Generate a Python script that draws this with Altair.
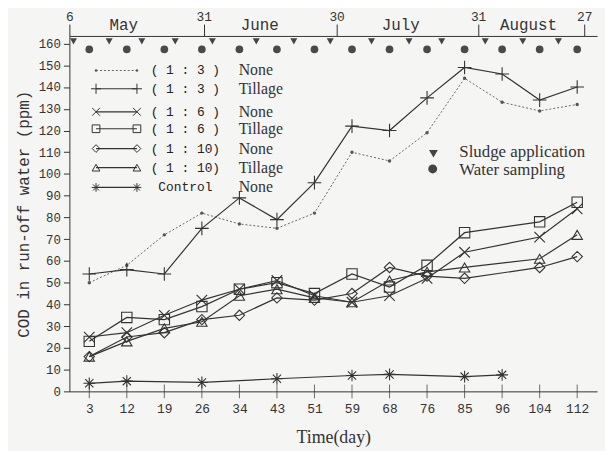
import altair as alt
import pandas as pd

# ---------------- data ----------------
days = [3, 12, 19, 26, 34, 43, 51, 59, 68, 76, 85, 96, 104, 112]
r3_none = [50, 58, 72, 82, 77, 75, 82, 110, 106, 119, 144, 133, 129, 132]
r3_till = [54, 56, 54, 75, 89, 79, 96, 122, 120, 135, 149, 146, 134, 140]
r6_none = [25, 27, 35, 42, 47, 51, 44, 41, 44, 52, 64, None, 71, 84]
r6_till = [23, 34, 33, 39, 47, 50, 45, 54, 48, 58, 73, None, 78, 87]
r10_none = [16, 25, 27, 33, 35, 43, 42, 45, 57, 53, 52, None, 57, 62]
r10_till = [16, 23, 29, 32, 44, 47, 43, 41, 51, 55, 57, None, 61, 72]
control = [3.7, 4.7, None, 4.1, None, 5.8, None, 7.3, 7.8, None, 6.8, 7.6, None, None]

series_names = ["r3n", "r3t", "r6n", "r6t", "r10n", "r10t", "ctl"]
series_vals = [r3_none, r3_till, r6_none, r6_till, r10_none, r10_till, control]
ratio_labels = ["( 1 : 3 )", "( 1 : 3 )", "( 1 : 6 )", "( 1 : 6 )", "( 1 : 10)", "( 1 : 10)", "Control"]
treat_labels = ["None", "Tillage", "None", "Tillage", "None", "Tillage", "None"]

# top (calendar) axis, positions in sampling-index units
top_tick_pos = [-0.53, 3.05, 6.59, 10.36, 13.19]
top_tick_lab = ["6", "31", "30", "31", "27"]
month_names = ["May", "June", "July", "August"]
month_pos = [0.92, 4.54, 8.30, 11.70]
# sludge application events (sampling-index units)
sludge_pos = [-0.42, 0.53, 1.40, 2.29, 3.28, 4.45, 5.45, 6.42, 7.52, 8.52, 9.39, 10.55, 11.55, 12.50]
# water sampling events = each sampling day
sampling_idx = list(range(len(days)))

# ---------------- styling ----------------
INK = "#333333"
BG = "#f5f5f3"
W, H = 533, 359
xs = alt.Scale(domain=[-0.53, 13.53], nice=False, zero=False)
ys = alt.Scale(domain=[0, 163.5], nice=False, zero=False)
MONO = "Liberation Mono"
SERIF = "Liberation Serif"

PLUS = "M-1,0L1,0M0,-1L0,1"
CROSS = "M-0.75,-0.75L0.75,0.75M-0.75,0.75L0.75,-0.75"
ASTER = "M-1,0L1,0M0,-1L0,1M-0.7,-0.7L0.7,0.7M-0.7,0.7L0.7,-0.7"
styles = {
    "r3n": dict(shape="circle", size=12, filled=True, dash=[2, 2], color="#555555", lw=0.9),
    "r3t": dict(shape=PLUS, size=190, filled=False, dash=None, color=INK, lw=1.2),
    "r6n": dict(shape=CROSS, size=200, filled=False, dash=None, color=INK, lw=1.2),
    "r6t": dict(shape="square", size=110, filled=False, dash=None, color=INK, lw=1.2),
    "r10n": dict(shape="diamond", size=110, filled=False, dash=None, color=INK, lw=1.2),
    "r10t": dict(shape="triangle-up", size=110, filled=False, dash=None, color=INK, lw=1.2),
    "ctl": dict(shape=ASTER, size=140, filled=False, dash=None, color=INK, lw=1.2),
}

rows = []
for name, vals in zip(series_names, series_vals):
    for i, v in enumerate(vals):
        if v is not None:
            rows.append({"series": name, "i": i, "v": v})
df = pd.DataFrame(rows)

label_expr = "[" + ",".join(f"'{d}'" for d in days) + "][datum.value]"
top_expr = " : ".join(
    f"datum.value < {p + 0.5} ? '{l}'" for p, l in zip(top_tick_pos[:-1], top_tick_lab[:-1])
) + f" : '{top_tick_lab[-1]}'"

y_axis = alt.Axis(
    values=list(range(0, 161, 10)), grid=False, domain=True, domainColor=INK,
    ticks=True, tickColor=INK, tickSize=6, labelFont=MONO, labelFontSize=12.5,
    labelColor=INK, labelPadding=3, title="COD in run-off water (ppm)",
    titleFont=MONO, titleFontSize=16, titleFontWeight="normal", titleColor=INK,
    titlePadding=7,
)
x_axis = alt.Axis(
    values=list(range(len(days))), labelExpr=label_expr, grid=False, domain=True,
    domainColor=INK, ticks=False, labelFont=MONO, labelFontSize=13, labelColor=INK,
    labelPadding=11, labelFlush=False, title="Time(day)", titleFont=SERIF,
    titleFontSize=18, titleFontWeight="normal", titleColor=INK, titlePadding=14,
)
top_axis = alt.Axis(
    orient="top", values=top_tick_pos, labelExpr=top_expr, grid=False, domain=True,
    domainColor=INK, ticks=True, tickColor=INK, tickSize=12, labelFont=MONO,
    labelFontSize=13, labelColor=INK, labelPadding=1, labelFlush=False, title=None,
)

layers = []

# bottom axis + y axis carrier, with tick marks crossing the x axis
tick_df = pd.DataFrame({"i": sampling_idx, "z": [0] * len(sampling_idx)})
layers.append(
    alt.Chart(tick_df).mark_tick(orient="vertical", size=14, thickness=1, color=INK).encode(
        x=alt.X("i:Q", scale=xs, axis=x_axis),
        y=alt.Y("z:Q", scale=ys, axis=y_axis),
    )
)
# top calendar axis carrier
top_df = pd.DataFrame({"p": top_tick_pos})
layers.append(
    alt.Chart(top_df).mark_point(opacity=0).encode(
        x=alt.X("p:Q", scale=xs, axis=top_axis),
        y=alt.Y("p:Q", scale=ys, axis=None),
    )
)
# month names
mon_df = pd.DataFrame({"m": month_names, "p": month_pos, "y": [168.6] * 4})
layers.append(
    alt.Chart(mon_df).mark_text(font=MONO, fontSize=16, color=INK, clip=False).encode(
        x=alt.X("p:Q", scale=xs, axis=None),
        y=alt.Y("y:Q", scale=ys, axis=None),
        text="m:N",
    )
)
# event markers along the top
sl_df = pd.DataFrame({"p": sludge_pos, "y": [161.0] * len(sludge_pos)})
layers.append(
    alt.Chart(sl_df).mark_point(shape="triangle-down", filled=True, size=50, color="#444444", opacity=1).encode(
        x=alt.X("p:Q", scale=xs, axis=None), y=alt.Y("y:Q", scale=ys, axis=None)
    )
)
ws_df = pd.DataFrame({"p": sampling_idx, "y": [157.3] * len(sampling_idx)})
layers.append(
    alt.Chart(ws_df).mark_point(shape="circle", filled=True, size=60, color="#4a4a4a", opacity=1).encode(
        x=alt.X("p:Q", scale=xs, axis=None), y=alt.Y("y:Q", scale=ys, axis=None)
    )
)

# series
for name in series_names:
    st = styles[name]
    sub = df[df.series == name]
    line_kw = dict(color=st["color"], strokeWidth=st["lw"])
    if st["dash"]:
        line_kw["strokeDash"] = st["dash"]
    layers.append(
        alt.Chart(sub).mark_line(**line_kw).encode(
            x=alt.X("i:Q", scale=xs, axis=None), y=alt.Y("v:Q", scale=ys, axis=None)
        )
    )
    layers.append(
        alt.Chart(sub).mark_point(
            shape=st["shape"], size=st["size"], filled=st["filled"], color=st["color"],
            strokeWidth=1.1, opacity=1,
        ).encode(x=alt.X("i:Q", scale=xs, axis=None), y=alt.Y("v:Q", scale=ys, axis=None))
    )

# in-plot legend (series)
leg_y = [147.6, 139.2, 128.6, 120.8, 111.7, 102.9, 93.8]
for k, name in enumerate(series_names):
    st = styles[name]
    seg = pd.DataFrame({"x": [0.18], "x2": [1.27], "y": [leg_y[k]]})
    rule_kw = dict(color=st["color"], strokeWidth=st["lw"])
    if st["dash"]:
        rule_kw["strokeDash"] = st["dash"]
    layers.append(
        alt.Chart(seg).mark_rule(**rule_kw).encode(
            x=alt.X("x:Q", scale=xs, axis=None), x2="x2:Q", y=alt.Y("y:Q", scale=ys, axis=None)
        )
    )
    ends = pd.DataFrame({"x": [0.18, 1.27], "y": [leg_y[k]] * 2})
    layers.append(
        alt.Chart(ends).mark_point(
            shape=st["shape"], size=st["size"] * 0.55, filled=st["filled"], color=st["color"],
            strokeWidth=1.0, opacity=1,
        ).encode(x=alt.X("x:Q", scale=xs, axis=None), y=alt.Y("y:Q", scale=ys, axis=None))
    )
leg_df = pd.DataFrame({
    "r": ratio_labels, "t": treat_labels, "y": leg_y,
    "xr": [2.56] * 7, "xt": [3.98] * 7,
})
layers.append(
    alt.Chart(leg_df).mark_text(font=MONO, fontSize=13, color="#222222", align="center").encode(
        x=alt.X("xr:Q", scale=xs, axis=None), y=alt.Y("y:Q", scale=ys, axis=None), text="r:N"
    )
)
layers.append(
    alt.Chart(leg_df).mark_text(font=SERIF, fontSize=16, color=INK, align="left").encode(
        x=alt.X("xt:Q", scale=xs, axis=None), y=alt.Y("y:Q", scale=ys, axis=None), text="t:N"
    )
)

# event legend
ev_df = pd.DataFrame({
    "lab": ["Sludge application", "Water sampling"],
    "xs": [9.17, 9.15], "ys": [109.3, 102.3],
    "xt": [9.86, 9.86], "yt": [110.0, 101.6],
})
layers.append(
    alt.Chart(ev_df.iloc[[0]]).mark_point(shape="triangle-down", filled=True, size=80, color="#444444", opacity=1).encode(
        x=alt.X("xs:Q", scale=xs, axis=None), y=alt.Y("ys:Q", scale=ys, axis=None)
    )
)
layers.append(
    alt.Chart(ev_df.iloc[[1]]).mark_point(shape="circle", filled=True, size=80, color="#444444", opacity=1).encode(
        x=alt.X("xs:Q", scale=xs, axis=None), y=alt.Y("ys:Q", scale=ys, axis=None)
    )
)
layers.append(
    alt.Chart(ev_df).mark_text(font=SERIF, fontSize=17, color=INK, align="left").encode(
        x=alt.X("xt:Q", scale=xs, axis=None), y=alt.Y("yt:Q", scale=ys, axis=None), text="lab:N"
    )
)

chart = (
    alt.layer(*layers)
    .resolve_axis(x="independent", y="independent")
    .properties(
        width=W, height=H,
        autosize=alt.AutoSizeParams(type="none"),
        padding={"left": 62, "top": 26, "right": 8, "bottom": 58},
        background=BG,
    )
    .configure_view(stroke=None)
)

chart.save("out.html", embed_options={"renderer": "svg", "actions": False})
